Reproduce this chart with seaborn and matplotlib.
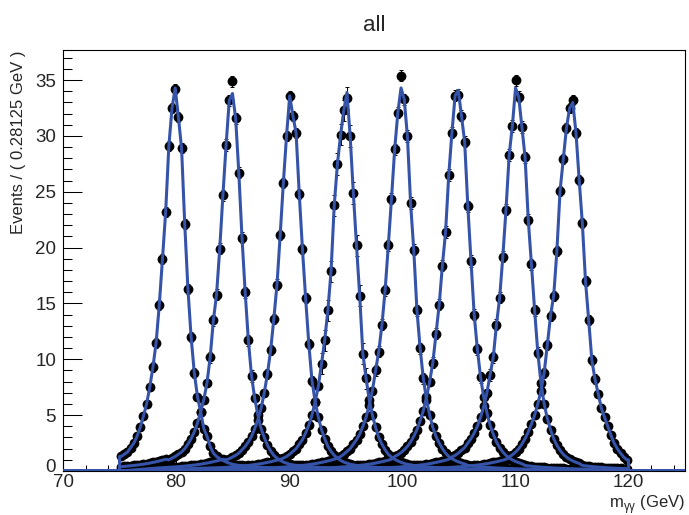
import numpy as np
import pandas as pd
import matplotlib
matplotlib.use("Agg")
import matplotlib.pyplot as plt
from matplotlib.ticker import MultipleLocator
from matplotlib.transforms import ScaledTranslation
import seaborn as sns

# binning of the fit range (75-120 GeV, 160 bins)
LOW, HIGH, BIN_W, N_BINS = 75.0, 120.0, 0.28125, 160
XMIN, XMAX = 70.0, 125.0

MASSES = [80, 85, 90, 95, 100, 105, 110, 115]

# events per bin, offsets -20..+20 bins around the bin holding each mass
EV_80 = [1.0, 1.1, 1.2, 1.3, 1.5, 1.7, 2.1, 2.5, 3.1, 3.9, 4.9, 6.0, 7.5, 9.3, 11.5, 14.9, 19.0, 23.2, 29.1, 32.5,
         34.2,
         31.7, 28.9, 22.1, 16.3, 12.0, 8.8, 6.65, 5.3, 3.8, 3.1, 2.2, 1.6, 1.3, 1.1, 0.95, 0.8, 0.7, 0.6, 0.55, 0.5]
EV_85 = [1.0, 1.15, 1.3, 1.5, 1.7, 2.0, 2.4, 2.9, 3.5, 4.3, 5.3, 6.4, 7.9, 10.2, 13.5, 15.8, 19.9, 24.7, 29.2, 33.2,
         34.9,
         31.6, 26.7, 20.9, 16.0, 11.7, 8.5, 6.5, 5.0, 3.8, 3.0, 2.3, 1.8, 1.4, 1.15, 0.95, 0.8, 0.7, 0.6, 0.55, 0.5]
EV_90 = [1.0, 1.1, 1.25, 1.4, 1.6, 1.9, 2.2, 2.6, 3.1, 3.8, 4.6, 5.6, 7.0, 8.7, 10.8, 13.6, 16.7, 21.1, 25.8, 30.0,
         33.6,
         31.8, 30.3, 24.8, 19.9, 15.5, 11.4, 8.1, 6.2, 4.8, 3.7, 2.9, 2.2, 1.75, 1.4, 1.15, 0.95, 0.8, 0.7, 0.6, 0.55]
EV_95 = [1.15, 1.3, 1.5, 1.75, 2.0, 2.4, 2.8, 3.4, 4.1, 5.0, 6.2, 7.6, 9.6, 11.7, 14.4, 17.9, 23.8, 27.5, 30.1, 32.3,
         33.4,
         30.0, 24.9, 20.2, 15.7, 10.5, 8.3, 6.4, 5.0, 3.9, 3.0, 2.4, 1.9, 1.5, 1.25, 1.05, 0.9, 0.78, 0.68, 0.6, 0.55]
EV_100 = [1.15, 1.3, 1.5, 1.75, 2.0, 2.4, 2.8, 3.3, 4.0, 4.8, 5.9, 7.2, 9.0, 10.7, 13.1, 16.2, 20.2, 24.4, 28.8, 32.1,
          35.4,
          33.3, 30.0, 24.0, 19.8, 14.4, 11.0, 8.3, 6.4, 5.0, 3.9, 3.1, 2.5, 2.0, 1.6, 1.3, 1.1, 0.95, 0.82, 0.72, 0.63]
EV_105 = [1.3, 1.45, 1.65, 1.9, 2.2, 2.6, 3.1, 3.7, 4.5, 5.4, 6.6, 8.0, 9.7, 12.3, 14.9, 18.4, 21.4, 26.5, 30.3, 33.6,
          33.7,
          31.8, 29.5, 23.7, 18.8, 14.0, 10.9, 8.4, 6.6, 5.2, 4.1, 3.3, 2.6, 2.1, 1.7, 1.4, 1.15, 1.0, 0.85, 0.75, 0.65]
EV_110 = [1.25, 1.4, 1.6, 1.85, 2.1, 2.5, 2.9, 3.4, 4.0, 4.8, 5.8, 7.0, 8.6, 10.2, 13.1, 15.5, 19.2, 23.4, 28.3, 30.9,
          35.0,
          33.5, 30.8, 28.1, 22.5, 18.5, 14.4, 10.6, 7.9, 6.0, 4.7, 3.7, 2.9, 2.3, 1.85, 1.5, 1.25, 1.05, 0.9, 0.78, 0.68]
EV_115 = [1.25, 1.45, 1.7, 2.0, 2.4, 2.9, 3.5, 4.2, 5.0, 6.0, 7.2, 8.8, 11.3, 13.9, 15.7, 19.7, 25.1, 27.9, 30.7, 32.5,
          33.2,
          30.3, 26.1, 22.2, 17.0, 13.5, 9.9, 8.2, 6.9, 5.6, 4.8, 4.0, 3.2, 2.5, 2.0, 1.6, 1.25, 1.0, 0.9, 0.8, 0.7]

# far tails (offsets 21..40 bins), shared by all samples
FAR_LEFT = [1.05, 0.97, 0.9, 0.83, 0.77, 0.71, 0.66, 0.61, 0.57, 0.53,
            0.5, 0.47, 0.44, 0.41, 0.39, 0.37, 0.35, 0.33, 0.31, 0.3]
FAR_RIGHT = [0.5, 0.46, 0.43, 0.4, 0.37, 0.35, 0.33, 0.31, 0.29, 0.27,
             0.26, 0.24, 0.23, 0.22, 0.21, 0.2, 0.19, 0.18, 0.17, 0.16]

# fitted curve maximum and error on the points for each sample
CURVE_TOP = [34.3, 33.8, 33.6, 33.9, 34.3, 34.1, 34.3, 33.0]
POINT_ERR = [0.45, 0.5, 0.45, 0.95, 0.5, 0.5, 0.5, 0.45]

SAMPLES = [EV_80, EV_85, EV_90, EV_95, EV_100, EV_105, EV_110, EV_115]

BLUE = '#3553a8'

sns.set_theme(style="ticks")
plt.rcParams['font.family'] = ['Liberation Sans', 'DejaVu Sans']
plt.rcParams['mathtext.fontset'] = 'custom'
plt.rcParams['mathtext.rm'] = 'Liberation Sans'

centers = LOW + BIN_W * (np.arange(N_BINS) + 0.5)
offsets = np.arange(-40, 41)

fig = plt.figure(figsize=(6.89, 5.15), dpi=100)
ax = fig.add_axes([63 / 689, 1 - 471 / 515, 622 / 689, 421 / 515])

for k, m in enumerate(MASSES):
    vals = np.array(FAR_LEFT[::-1] + SAMPLES[k] + FAR_RIGHT)
    bins = int((m - LOW) / BIN_W) + offsets
    ok = (bins >= 0) & (bins < N_BINS)
    xs = centers[bins[ok]]
    ys = vals[ok]

    pts = pd.DataFrame({'x': xs, 'y': ys})
    # error bars only show above the markers on the upper part of the peaks
    big = pts[pts['y'] > 8]
    ax.errorbar(big['x'], big['y'], yerr=POINT_ERR[k], fmt='none', ecolor='black',
                elinewidth=0.7, capsize=1.2, capthick=0.7, zorder=2)
    sns.scatterplot(data=pts, x='x', y='y', color='black', s=50, linewidth=0, ax=ax, zorder=3)

    # fitted pdf: zero outside the fit range
    cy = vals.copy()
    cy[40] = CURVE_TOP[k]
    cy = cy[ok]
    lx = [XMIN, LOW]
    ly = [0.0, 0.0]
    if bins[ok][0] == 0:
        lx.append(LOW)
        ly.append(cy[0])
    lx += list(xs)
    ly += list(cy)
    if bins[ok][-1] == N_BINS - 1:
        lx.append(HIGH)
        ly.append(cy[-1])
    lx += [HIGH, XMAX]
    ly += [0.0, 0.0]
    sns.lineplot(x=lx, y=ly, estimator=None, sort=False, color=BLUE, linewidth=2.2, ax=ax, zorder=4)

ax.set_xlim(XMIN, XMAX)
ax.set_ylim(0, 37.7)
ax.xaxis.set_major_locator(MultipleLocator(10))
ax.xaxis.set_minor_locator(MultipleLocator(2))
ax.yaxis.set_major_locator(MultipleLocator(5))
ax.yaxis.set_minor_locator(MultipleLocator(1))

ax.tick_params(axis='y', which='major', direction='in', length=13.5, width=0.75, labelsize=13.5, pad=5, color='black')
ax.tick_params(axis='y', which='minor', direction='in', length=6.7, width=0.75, color='black')
ax.tick_params(axis='x', which='major', direction='in', length=9, width=0.75, labelsize=13.5, pad=2.5, color='black')
ax.tick_params(axis='x', which='minor', direction='in', length=4.5, width=0.75, color='black')
for s in ax.spines.values():
    s.set_color('black')
    s.set_linewidth(0.8)

ax.set_title('all', fontsize=16, pad=14)
ax.set_ylabel('Events / ( 0.28125 GeV )', fontsize=12, loc='top')
ax.yaxis.set_label_coords(-0.0595, 1.0)
ax.set_xlabel('m$_{\\mathrm{γγ}}$ (GeV)', fontsize=12, loc='right')
ax.xaxis.set_label_coords(1.0, -0.052)

# lift the "0" label a little so it clears the "70" below it
fig.canvas.draw()
for lab in ax.get_yticklabels():
    if lab.get_text() == '0':
        lab.set_transform(lab.get_transform() + ScaledTranslation(0, 4 / 72, fig.dpi_scale_trans))

fig.savefig('out.png', dpi=100)
plt.close(fig)
